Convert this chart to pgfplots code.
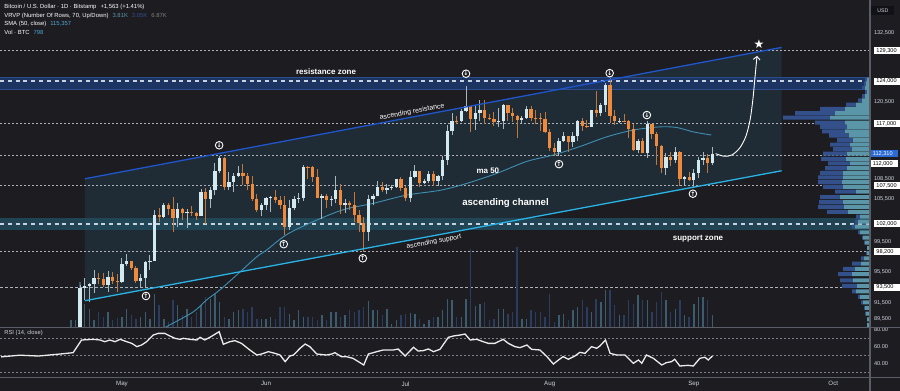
\documentclass[border=0pt]{standalone}
\usepackage{pgfplots}
\pgfplotsset{compat=1.18}
\usepackage{pgfplotstable}
\usepackage{fontspec}
\setmainfont{Liberation Sans}
\newfontfamily\dejavu{DejaVu Sans}
\usetikzlibrary{arrows.meta}
\newcommand{\fsz}[1]{\fontsize{#1}{#1}\selectfont}

\definecolor{bg}{HTML}{1C1C21}
\definecolor{axtxt}{HTML}{D1D4DC}
\definecolor{dotc}{HTML}{AEB1B8}
\definecolor{zonedash}{HTML}{C9D1DE}
\definecolor{chan}{HTML}{1F2C35}
\definecolor{resband}{HTML}{1C3461}
\definecolor{resedge}{HTML}{2C4C8C}
\definecolor{supband}{HTML}{22495A}
\definecolor{upline}{HTML}{1F56CC}
\definecolor{lowline}{HTML}{2AB3E6}
\definecolor{smac}{HTML}{3F8FB3}
\definecolor{upc}{HTML}{D3E9F0}
\definecolor{dnc}{HTML}{EF8A3D}
\definecolor{upw}{HTML}{A7B7BE}
\definecolor{dnw}{HTML}{C2763A}
\definecolor{volup}{HTML}{3A5C6E}
\definecolor{voldn}{HTML}{2A3D60}
\definecolor{vrt}{HTML}{5A96A8}
\definecolor{vrb}{HTML}{33508A}
\definecolor{rsic}{HTML}{ECECEC}
\definecolor{rsigrid}{HTML}{7E8189}
\definecolor{sepc}{HTML}{5A5D66}
\definecolor{lastblue}{HTML}{2C6BD4}
\definecolor{smav}{HTML}{4FA6D6}
\definecolor{usdbg}{HTML}{121216}

% daily candles: day index (0 = 1 May), open, high, low, close (thousand USD), volume (BTC)
\pgfplotstableread{
d O H L C V
-11 85.1 85.6 83.9 85.1 476
-10 85.1 88.4 85.1 87.5 476
-9 87.5 93.8 87.1 93.4 3060
-8 93.4 94.7 91.9 93.7 1564
-7 93.7 94.0 91.7 93.9 1224
-6 93.9 95.7 92.8 94.7 476
-5 94.7 95.3 93.9 94.6 1020
-4 94.6 95.3 93.6 93.8 680
-3 93.8 95.6 92.9 94.9 1020
-2 94.9 95.5 93.9 94.3 476
-1 94.3 95.2 92.9 94.2 612
0 94.2 97.4 94.1 96.5 680
1 96.5 97.9 96.3 96.9 1224
2 96.9 96.9 95.8 96.0 816
3 96.0 96.3 94.1 94.3 544
4 94.3 95.2 93.5 94.7 680
5 94.7 96.9 93.4 96.8 1020
6 96.8 97.7 95.8 97.0 544
7 97.0 103.9 96.9 103.2 2244
8 103.2 104.3 102.3 102.9 1496
9 102.9 104.9 102.8 104.6 544
10 104.6 104.9 103.3 104.1 340
11 104.1 105.8 100.8 102.8 1836
12 102.8 104.9 101.5 104.1 1496
13 104.1 104.3 102.6 103.5 816
14 103.5 104.1 101.4 103.7 1224
15 103.7 104.5 103.1 103.5 680
16 103.5 103.7 102.6 103.1 1020
17 103.1 107.0 103.1 106.5 1496
18 106.5 107.1 102.0 105.6 2040
19 105.6 107.3 104.2 106.8 1904
20 106.8 110.8 106.1 109.6 2244
21 109.6 111.9 109.3 111.7 1700
22 111.7 111.8 106.8 107.3 680
23 107.3 109.5 106.9 108.0 544
24 108.0 109.3 106.6 108.9 1020
25 108.9 110.4 108.7 109.4 1156
26 109.4 110.7 107.6 108.9 1224
27 108.9 109.3 106.8 107.8 1020
28 107.8 108.9 105.3 105.6 1360
29 105.6 106.3 103.7 103.9 544
30 103.9 104.9 103.1 104.6 544
31 104.6 105.8 103.9 105.7 544
32 105.7 105.9 103.7 105.8 680
33 105.8 106.8 105.0 105.4 544
34 105.4 106.0 104.1 104.7 1360
35 104.7 105.9 100.4 101.5 1360
36 101.5 105.4 101.1 104.3 884
37 104.3 105.9 103.9 105.6 476
38 105.6 106.4 105.0 105.7 1156
39 105.7 110.6 105.3 110.3 680
40 110.3 110.4 108.4 110.2 680
41 110.2 110.4 108.0 108.7 680
42 108.7 110.0 105.7 105.7 476
43 105.7 106.2 102.7 106.0 816
44 106.0 106.2 104.3 105.4 476
45 105.4 106.0 104.5 105.6 1020
46 105.6 108.9 104.9 106.8 1020
47 106.8 107.8 103.4 104.6 680
48 104.6 105.6 103.5 104.9 816
49 104.9 105.2 103.9 104.6 1156
50 104.6 106.5 102.3 103.3 1020
51 103.3 104.0 100.8 102.1 1156
52 102.1 103.0 98.2 100.9 1360
53 100.9 106.1 99.6 105.5 1768
54 105.5 106.3 104.6 105.9 1156
55 105.9 108.1 105.9 107.3 1156
56 107.3 108.0 106.6 106.9 816
57 106.9 107.7 106.2 107.1 1224
58 107.1 107.6 106.8 107.3 204
59 107.3 108.5 107.2 108.4 476
60 108.4 108.8 106.7 107.1 816
61 107.1 107.5 105.3 105.7 884
62 105.7 109.7 105.1 108.8 952
63 108.8 110.5 108.6 109.6 884
64 109.6 109.7 107.3 107.9 544
65 107.9 108.4 107.8 108.2 204
66 108.2 109.7 107.9 109.2 476
67 109.2 109.7 107.5 108.2 680
68 108.2 109.0 107.4 108.9 680
69 108.9 111.9 108.3 111.3 1156
70 111.3 116.8 110.6 115.9 1904
71 115.9 118.8 115.2 117.5 1836
72 117.5 118.2 116.9 117.4 680
73 117.4 119.4 117.3 119.1 680
74 119.1 123.2 118.9 119.8 1904
75 119.8 119.9 115.7 117.7 5304
76 117.7 120.0 116.0 118.7 1428
77 118.7 120.8 117.4 119.2 1564
78 119.2 120.9 116.9 117.9 1700
79 117.9 118.5 117.6 117.8 476
80 117.8 118.9 116.6 117.3 544
81 117.3 119.6 116.5 117.4 1224
82 117.4 120.2 116.2 120.0 1224
83 120.0 120.0 117.4 118.8 884
84 118.8 119.5 117.3 118.3 1020
85 118.3 118.4 114.7 117.6 5440
86 117.6 118.2 117.2 117.9 544
87 117.9 119.8 117.8 119.4 544
88 119.4 119.8 117.4 118.0 1156
89 118.0 119.3 116.9 117.9 1020
90 117.9 118.8 115.8 117.8 1020
91 117.8 118.9 115.5 115.7 680
92 115.7 116.1 112.7 113.2 2244
93 113.2 114.0 112.0 112.5 340
94 112.5 114.7 111.9 114.2 816
95 114.2 115.7 114.1 115.0 884
96 115.0 115.1 112.6 114.1 476
97 114.1 115.7 113.4 115.0 1156
98 115.0 117.6 114.3 117.5 1360
99 117.5 117.9 115.9 116.7 1836
100 116.7 117.6 116.3 116.5 1360
101 116.5 119.3 116.5 119.3 1020
102 119.3 122.3 118.1 118.7 1904
103 118.7 120.3 118.2 120.1 1700
104 120.1 123.7 118.9 123.3 2516
105 123.3 124.5 117.2 118.3 2516
106 118.3 119.2 116.8 117.4 1496
107 117.4 117.9 117.2 117.5 816
108 117.5 118.6 117.3 117.4 816
109 117.4 117.6 114.7 116.2 1836
110 116.2 116.9 112.7 112.9 1564
111 112.9 114.6 112.4 114.3 2176
112 114.3 114.7 112.4 112.4 1836
113 112.4 117.4 111.7 116.9 1836
114 116.9 117.0 114.6 115.4 1020
115 115.4 115.7 110.6 113.5 1700
116 113.5 113.7 109.3 110.1 2380
117 110.1 112.4 109.0 111.8 1836
118 111.8 112.6 110.4 111.3 1020
119 111.3 113.4 110.9 112.6 1224
120 112.6 112.7 107.4 108.4 1836
121 108.4 108.9 107.5 108.8 816
122 108.8 109.5 108.1 108.3 680
123 108.3 109.9 107.3 109.3 1564
124 109.3 111.8 108.6 111.3 2040
125 111.3 112.6 110.6 111.7 2040
126 111.7 112.2 109.4 110.8 1836
127 110.8 113.4 110.5 112.3 798
}\ohlc

% visible-range volume profile: row price (k USD), up volume, down volume
\pgfplotstableread{
p t b
124.3 3 2
123.6 4 2
122.9 5 3
122.2 3 2
121.5 5 3
120.8 8 4
120.1 14 10
119.4 25 25
118.7 35 40
118.0 40 47
117.2 25 30
116.5 23 27
115.8 25 23
115.1 21 20
114.4 17 16
113.7 20 20
113.0 18 19
112.3 23 24
111.5 24 25
110.8 20 22
110.1 23 22
109.4 27 23
108.7 27 25
108.0 28 24
107.3 27 20
106.6 14 21
105.8 30 20
105.1 27 24
104.4 26 26
103.7 22 21
103.0 10 4
102.3 12 3
101.6 15 3
100.8 10 2
100.1 7 1
99.4 5 1
98.7 3 0
98.0 3 1
97.3 6 3
96.6 9 9
95.9 15 12
95.2 18 14
94.4 17 13
93.7 13 15
93.0 14 4
92.3 10 2
91.6 7 2
90.9 5 1
90.2 4 1
89.5 3 0
88.8 3 0
}\vrvp

% build candle segments from the table
\def\wup{}\def\bup{}\def\wdn{}\def\bdn{}\def\vup{}\def\vdn{}
\pgfplotstablegetrowsof{\ohlc}
\pgfmathtruncatemacro{\lastrow}{\pgfplotsretval-1}
\pgfplotsforeachungrouped \i in {0,...,\lastrow}{%
  \pgfplotstablegetelem{\i}{d}\of\ohlc\let\cD\pgfplotsretval
  \pgfplotstablegetelem{\i}{O}\of\ohlc\let\cO\pgfplotsretval
  \pgfplotstablegetelem{\i}{H}\of\ohlc\let\cH\pgfplotsretval
  \pgfplotstablegetelem{\i}{L}\of\ohlc\let\cL\pgfplotsretval
  \pgfplotstablegetelem{\i}{C}\of\ohlc\let\cC\pgfplotsretval
  \pgfplotstablegetelem{\i}{V}\of\ohlc\let\cV\pgfplotsretval
  \ifdim\cC pt<\cO pt
    \xdef\wdn{\wdn(\cD,\cL)(\cD,\cH)(\cD,nan)}%
    \xdef\bdn{\bdn(\cD,\cO)(\cD,\cC)(\cD,nan)}%
    \xdef\vdn{\vdn(\cD,\cV)}%
  \else
    \xdef\wup{\wup(\cD,\cL)(\cD,\cH)(\cD,nan)}%
    \xdef\bup{\bup(\cD,\cO)(\cD,\cC)(\cD,nan)}%
    \xdef\vup{\vup(\cD,\cV)}%
  \fi
}

\pgfplotsset{
  dotline/.style={dotc, line width=0.5pt, dash pattern=on 1pt off 1pt, forget plot},
  zoneline/.style={zonedash, line width=0.85pt, dash pattern=on 2pt off 1.9pt, forget plot},
  cwick/.style={line width=0.5pt, unbounded coords=jump, mark=none, forget plot},
  cbody/.style={line width=1.65pt, line cap=butt, unbounded coords=jump, mark=none, forget plot},
}

\begin{document}
\begin{tikzpicture}
\path[use as bounding box, fill=bg] (0,0) rectangle (450pt,195.5pt);

% ---------- background layer: channel, zones, levels ----------
\begin{axis}[scale only axis, width=435pt, height=163.5pt, at={(0pt,32pt)}, anchor=south west,
  xmin=-26.24, xmax=160.9, ymode=log, ymin=88.56, ymax=138.63, clip mode=individual, hide axis]
\addplot[fill=chan, draw=none] coordinates {(-8.0,108.5) (141.9,129.9) (141.9,109.7) (-8.0,91.8)} --cycle;
\addplot[fill=resband, draw=none] coordinates {(-26.24,122.6) (160.9,122.6) (160.9,124.6) (-26.24,124.6)} --cycle;
\addplot[resedge, line width=0.4pt, forget plot] coordinates {(-26.24,122.6) (160.9,122.6)};
\addplot[resedge, line width=0.4pt, forget plot] coordinates {(-26.24,124.6) (160.9,124.6)};
\addplot[fill=supband, draw=none, opacity=0.9] coordinates {(-26.24,101.2) (160.9,101.2) (160.9,102.8) (-26.24,102.8)} --cycle;
\addplot[dotline] coordinates {(-26.24,129.3) (160.9,129.3)};
\addplot[zoneline] coordinates {(-26.24,124.0) (160.9,124.0)};
\addplot[dotline] coordinates {(-26.24,117.0) (160.9,117.0)};
\addplot[dotline] coordinates {(-26.24,112.0) (160.9,112.0)};
\addplot[dotline] coordinates {(-26.24,107.5) (160.9,107.5)};
\addplot[zoneline] coordinates {(-26.24,102.0) (160.9,102.0)};
\addplot[dotline] coordinates {(-26.24,98.2) (160.9,98.2)};
\addplot[dotline, dash pattern=on 1.5pt off 1pt] coordinates {(-26.24,93.5) (160.9,93.5)};
\end{axis}

% ---------- volume ----------
\begin{axis}[scale only axis, width=435pt, height=163.5pt, at={(0pt,32pt)}, anchor=south west,
  xmin=-26.24, xmax=160.9, ymin=0, ymax=22236, clip mode=individual, hide axis]
\edef\tmp{\noexpand\addplot[ycomb, voldn, line width=0.7pt, mark=none] coordinates {\vdn};}\tmp
\edef\tmp{\noexpand\addplot[ycomb, volup, line width=0.7pt, mark=none] coordinates {\vup};}\tmp
\end{axis}

% ---------- volume profile ----------
\begin{axis}[scale only axis, width=435pt, height=163.5pt, at={(0pt,32pt)}, anchor=south west,
  hide axis, ymode=log, ymin=88.56, ymax=138.63, xmin=0, xmax=870, x dir=reverse,
  xbar stacked, bar width=2.0pt]
\addplot[fill=vrt, draw=none] table[x=t, y=p] {\vrvp};
\addplot[fill=vrb, draw=none] table[x=b, y=p] {\vrvp};
\end{axis}

% ---------- main price layer ----------
\begin{axis}[scale only axis, width=435pt, height=163.5pt, at={(0pt,32pt)}, anchor=south west,
  xmin=-26.24, xmax=160.9, ymode=log, ymin=88.56, ymax=138.63, clip mode=individual,
  axis line style={draw=none}, major tick length=0pt, xtick=\empty,
  yticklabel pos=right,
  ytick={132.5,120.5,108.5,105.5,99.5,95.5,91.5,89.5},
  yticklabels={{132,500},{120,500},{108,500},{105,500},{99,500},{95,500},{91,500},{89,500}},
  yticklabel style={anchor=west, inner sep=0pt, xshift=1.8pt, font=\fsz{2.8}, text=axtxt},
  extra y ticks={129.3,124,117,107.5,102,98.2,93.5},
  extra y tick labels={{129,300},{124,000},{117,000},{107,500},{102,000},{98,200},{93,500}},
  extra y tick style={yticklabel style={fill=white, text=black, xshift=0pt,
    inner xsep=1.2pt, inner ysep=0.6pt, text width=11.6pt, align=left}},
  minor y tick num=0,
]
% SMA 50
\addplot[smac, line width=0.45pt, smooth, mark=none] coordinates {
(8.5,88.2) (9.6,88.6) (15.3,90.4) (18.2,91.9) (21.1,93.2) (25.4,95.5) (29.0,97.5) (31.1,98.4)
(35.4,100.5) (41.1,102.3) (47.6,104.0) (54.0,104.9) (61.2,106.1) (68.4,106.8) (74.1,107.8)
(80.6,109.3) (87.0,111.1) (92.8,112.1) (98.5,113.4) (104.2,114.9) (110.0,116.0) (115.7,116.5)
(119.3,116.4) (122.9,115.7) (126.8,115.2)};
% candles
\edef\tmp{\noexpand\addplot[cwick, dnw] coordinates {\wdn};}\tmp
\edef\tmp{\noexpand\addplot[cwick, upw] coordinates {\wup};}\tmp
\edef\tmp{\noexpand\addplot[cbody, dnc] coordinates {\bdn};}\tmp
\edef\tmp{\noexpand\addplot[cbody, upc] coordinates {\bup};}\tmp
% channel lines
\addplot[upline, line width=0.65pt] coordinates {(-8.0,108.5) (141.9,129.9)};
\addplot[lowline, line width=0.65pt] coordinates {(-8.0,91.8) (141.9,109.7)};
% projection arrow and target
\addplot[white, line width=0.45pt, smooth, mark=none, -{Straight Barb[length=1.6pt, width=3.4pt]}] coordinates {
(127.7,112.3) (129.5,111.9) (131.2,112.1) (132.9,113.2) (134.2,115.0) (135.1,117.6) (135.7,120.9) (136.1,124.2) (136.6,128.4)};
\addplot[only marks, mark=text, text mark={\dejavu ★}, text mark as node=true,
  text mark style={font=\fsz{6}, text=white, inner sep=0pt}] coordinates {(137.0,130.4)};
% swing markers
\addplot[only marks, mark=o, mark size=1.9pt, white, line width=0.45pt] coordinates {
(5.16,92.4) (34.8,99.2) (51.8,97.3) (94.0,110.7) (122.8,106.3)
(20.9,113.6) (74.0,125.3) (104.9,125.4) (112.9,118.4)};
\addplot[only marks, mark=text, text mark={\dejavu\bfseries ↑}, text mark as node=true,
  text mark style={font=\fsz{3.1}, text=white, inner sep=0pt}] coordinates {
(5.16,92.4) (34.8,99.2) (51.8,97.3) (94.0,110.7) (122.8,106.3)};
\addplot[only marks, mark=text, text mark={\dejavu\bfseries ↓}, text mark as node=true,
  text mark style={font=\fsz{3.1}, text=white, inner sep=0pt}] coordinates {
(20.9,113.6) (74.0,125.3) (104.9,125.4) (112.9,118.4)};
% annotations
\node[font=\bfseries\fsz{4}, text=white] at (axis cs:43.9,125.6) {resistance zone};
\node[font=\fsz{3.5}, text=white, rotate=10.7] at (axis cs:62.4,118.9) {ascending resistance};
\node[font=\bfseries\fsz{4}, text=white] at (axis cs:78.7,109.7) {ma 50};
\node[font=\bfseries\fsz{4.8}, text=white] at (axis cs:82.5,104.9) {ascending channel};
\node[font=\fsz{3.4}, text=white, rotate=10.7] at (axis cs:67.1,99.5) {ascending support};
\node[font=\bfseries\fsz{4}, text=white] at (axis cs:123.9,100.0) {support zone};
% price-scale boxes
\node[anchor=west, fill=lastblue, text=white, font=\fsz{2.8}, inner xsep=1.2pt, inner ysep=0.6pt,
  text width=11.6pt, align=left] at (axis cs:160.9,112.31) {112,310};
\node[anchor=west, fill=white, text=black, font=\fsz{2.8}, inner xsep=1.2pt, inner ysep=0.6pt,
  text width=11.6pt, align=left] at (axis cs:160.9,110.8) {112,000};
\node[fill=usdbg, text=axtxt, font=\fsz{2.6}, minimum width=11.5pt, minimum height=4.6pt,
  inner sep=0pt] at (rel axis cs:1.0149,0.968) {USD};
% header
\node[anchor=west, font=\fsz{2.95}, text=white, inner sep=0pt] at (rel axis cs:0.0046,0.9777)
  {Bitcoin / U.S. Dollar · 1D · Bitstamp\hspace{2pt}+1,563 (+1.41\%)};
\node[anchor=west, font=\fsz{2.95}, text=white, inner sep=0pt] at (rel axis cs:0.0046,0.952)
  {VRVP (Number Of Rows, 70, Up/Down)\hspace{2pt}\textcolor{vrt}{3.81K}\hspace{2pt}\textcolor{vrb}{3.05K}\hspace{2pt}\textcolor{gray}{6.87K}};
\node[anchor=west, font=\fsz{2.95}, text=white, inner sep=0pt] at (rel axis cs:0.0046,0.9266)
  {SMA (50, close)\hspace{2pt}\textcolor{smav}{115,357}};
\node[anchor=west, font=\fsz{2.95}, text=white, inner sep=0pt] at (rel axis cs:0.0046,0.900)
  {Vol · BTC\hspace{2pt}\textcolor{smav}{798}};
\end{axis}

% ---------- RSI ----------
\begin{axis}[scale only axis, width=435pt, height=24.5pt, at={(0pt,7pt)}, anchor=south west,
  xmin=-26.24, xmax=160.9, ymin=24.0, ymax=82.4, clip mode=individual,
  axis line style={draw=none}, major tick length=0pt,
  yticklabel pos=right,
  ytick={80,60,40}, yticklabels={80.00,60.00,40.00},
  yticklabel style={anchor=west, inner sep=0pt, xshift=1.8pt, font=\fsz{2.8}, text=axtxt},
  xtick={0,31,61,92,123,153}, xticklabels={May,Jun,Jul,Aug,Sep,Oct},
  xticklabel style={anchor=center, inner sep=0pt, yshift=-3.4pt, font=\fsz{3.1}, text=axtxt},
]
\addplot[rsigrid, line width=0.45pt, dash pattern=on 1pt off 1pt] coordinates {(-26.24,70) (160.9,70)};
\addplot[rsigrid, line width=0.45pt, dash pattern=on 1pt off 1pt] coordinates {(-26.24,50) (160.9,50)};
\addplot[rsigrid, line width=0.45pt, dash pattern=on 1pt off 1pt] coordinates {(-26.24,30) (160.9,30)};
\addplot[rsic, line width=0.65pt, mark=none] coordinates {
(-26,48) (-22,50) (-18,49) (-13.3,51.4) (-10.5,53.0) (-8.7,68.1) (-6.2,68.9) (-4.7,68.1) (-3.7,66.1)
(-2.6,68.1) (-1.5,66.1) (-0.4,68.9) (1.0,66.1) (2.1,64.1) (3.2,60.2) (4.2,62.1) (5.3,66.1) (6.7,74.0)
(7.8,76.0) (9.2,76.0) (10.3,72.9) (11.4,70.1) (12.5,68.9) (13.2,70.1) (14.6,68.9) (16.1,68.1) (16.8,71.3)
(17.8,68.1) (18.9,71.3) (20.9,78.0) (21.8,63.0) (23.2,66.1) (24.3,67.3) (25.7,64.1) (27.5,56.2) (29.0,50.2)
(30.0,51.4) (31.5,54.2) (32.9,52.2) (34.0,50.2) (35.1,42.3) (36.1,49.0) (36.9,50.2) (38.3,58.2) (39.4,63.3)
(40.4,60.2) (41.9,51.4) (44.0,50.2) (45.1,51.4) (45.8,53.0) (47.2,48.2) (48.3,48.2) (49.7,46.2) (51.2,41.1)
(52.0,38.3) (53.0,51.4) (54.8,54.2) (56.2,56.2) (58.4,56.2) (59.4,57.4) (60.9,49.0) (62.7,59.4) (63.7,55.0)
(64.8,55.4) (65.9,57.4) (67.0,54.2) (68.4,57.0) (70.2,71.3) (71.3,72.9) (72.7,74.0) (73.8,75.2) (74.9,68.1)
(76.3,68.9) (77.7,66.1) (78.8,64.1) (80.2,64.1) (82.0,68.9) (83.1,64.1) (84.5,60.2) (85.6,59.0) (87.1,62.1)
(88.1,57.0) (89.9,56.2) (91.4,48.3) (92.8,39.5) (93.9,44.3) (94.9,48.3) (96.0,45.1) (97.4,49.0) (98.5,53.4)
(99.6,52.2) (101.0,60.2) (102.1,58.2) (102.8,61.0) (104.0,68.1) (105.0,52.2) (106.4,50.2) (108.2,50.2)
(110.0,40.3) (111.1,44.3) (111.8,40.3) (112.8,50.2) (114.3,46.3) (116.1,38.3) (117.1,41.1) (118.2,42.3)
(118.9,45.1) (120.0,37.1) (121.8,37.9) (122.9,37.1) (124.3,46.3) (125.4,47.5) (126.1,44.3) (127.0,49.0)};
\node[anchor=west, font=\fsz{2.9}, text=axtxt, inner sep=0pt] at (rel axis cs:0.0046,0.90) {RSI (14, close)};
\end{axis}

% pane separators
\draw[sepc, line width=0.6pt] (0,31.75pt) -- (450pt,31.75pt);
\draw[sepc, line width=0.6pt] (0,6.75pt) -- (450pt,6.75pt);
\draw[sepc, line width=0.6pt] (435pt,0) -- (435pt,195.5pt);
\end{tikzpicture}
\end{document}
